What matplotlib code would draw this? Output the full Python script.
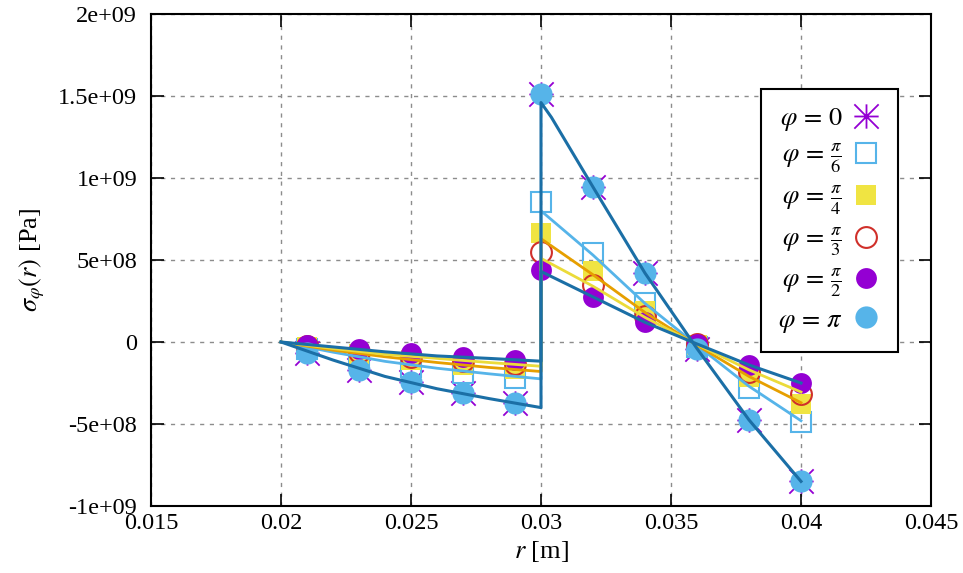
import matplotlib
matplotlib.use("Agg")
import matplotlib.pyplot as plt
from matplotlib.lines import Line2D
from matplotlib.path import Path

plt.rcParams['font.family'] = ['Liberation Serif', 'DejaVu Serif']
plt.rcParams['mathtext.fontset'] = 'stix'

# ---------------- data ----------------
r_in = [0.021, 0.023, 0.025, 0.027, 0.029]
r_out = [0.030, 0.032, 0.034, 0.036, 0.038, 0.040]

# numerical (marker) values, in Pa
pts_0 = [-0.067e9, -0.17e9, -0.245e9, -0.31e9, -0.37e9,
         1.51e9, 0.945e9, 0.42e9, -0.04e9, -0.475e9, -0.85e9]
pts_pi6 = [-0.04e9, -0.10e9, -0.15e9, -0.19e9, -0.22e9,
           0.855e9, 0.54e9, 0.24e9, -0.03e9, -0.28e9, -0.49e9]
pts_pi4 = [-0.03e9, -0.075e9, -0.11e9, -0.14e9, -0.165e9,
           0.665e9, 0.43e9, 0.19e9, -0.02e9, -0.215e9, -0.38e9]
pts_pi3 = [-0.025e9, -0.06e9, -0.09e9, -0.115e9, -0.135e9,
           0.55e9, 0.35e9, 0.16e9, -0.015e9, -0.185e9, -0.32e9]
pts_pi2 = [-0.02e9, -0.045e9, -0.07e9, -0.09e9, -0.11e9,
           0.44e9, 0.275e9, 0.12e9, -0.01e9, -0.14e9, -0.25e9]
pts_pi = [-0.067e9, -0.17e9, -0.245e9, -0.31e9, -0.37e9,
          1.51e9, 0.945e9, 0.42e9, -0.04e9, -0.475e9, -0.85e9]

# analytical curves
line_r = [0.020, 0.022, 0.024, 0.026, 0.028, 0.030,
          0.030, 0.032, 0.034, 0.036, 0.038, 0.040]
line_r_pi = [0.020, 0.022, 0.024, 0.026, 0.028, 0.030,
             0.030, 0.0304, 0.032, 0.034, 0.036, 0.038, 0.040]
line_pi = [0, -0.11e9, -0.21e9, -0.285e9, -0.345e9, -0.40e9,
           1.46e9, 1.37e9, 0.945e9, 0.42e9, -0.04e9, -0.475e9, -0.85e9]
line_pi6 = [0, -0.062e9, -0.118e9, -0.16e9, -0.194e9, -0.225e9,
            0.80e9, 0.53e9, 0.235e9, -0.02e9, -0.27e9, -0.48e9]
line_pi4 = [0, -0.05e9, -0.09e9, -0.125e9, -0.155e9, -0.18e9,
            0.63e9, 0.41e9, 0.18e9, -0.02e9, -0.21e9, -0.37e9]
line_pi3 = [0, -0.04e9, -0.075e9, -0.10e9, -0.125e9, -0.148e9,
            0.51e9, 0.34e9, 0.15e9, -0.015e9, -0.17e9, -0.305e9]
line_pi2 = [0, -0.03e9, -0.06e9, -0.085e9, -0.10e9, -0.117e9,
            0.43e9, 0.275e9, 0.12e9, -0.012e9, -0.14e9, -0.25e9]

labels = [r'$\varphi\,=\,0$', r'$\varphi\,=\,\frac{\pi}{6}$', r'$\varphi\,=\,\frac{\pi}{4}$',
          r'$\varphi\,=\,\frac{\pi}{3}$', r'$\varphi\,=\,\frac{\pi}{2}$', r'$\varphi\,=\,\pi$']

xticks = [0.015, 0.02, 0.025, 0.03, 0.035, 0.04, 0.045]
xticklabels = ['0.015', '0.02', '0.025', '0.03', '0.035', '0.04', '0.045']
yticks = [-1e9, -0.5e9, 0, 0.5e9, 1e9, 1.5e9, 2e9]
yticklabels = ['-1e+09', '-5e+08', '0', '5e+08', '1e+09', '1.5e+09', '2e+09']

# ---------------- styling ----------------
PURPLE = '#9400D3'
LBLUE = '#56B4E9'
YELLOW = '#F0E442'
RED = '#D0302A'
DBLUE = '#1b6fa6'
ORANGE = '#E69F00'
LYELLOW = '#EBDB3A'

# gnuplot-like asterisk: "+" plus "x" filling the square
star = Path([(-1, 0), (1, 0), (0, -1), (0, 1), (-1, -1), (1, 1), (-1, 1), (1, -1)],
            [Path.MOVETO, Path.LINETO] * 4)

fig = plt.figure(figsize=(9.63, 5.73), dpi=100)
ax = fig.add_axes([151/963, 1-506/573, 780/963, 492/573])

r_all = r_in + r_out
sty = [
    dict(marker=star, ms=17.5, mfc='none', mec=PURPLE, mew=1.3),
    dict(marker='s', ms=14.5, mfc='none', mec=LBLUE, mew=1.5),
    dict(marker='s', ms=14.5, mfc=YELLOW, mec=YELLOW, mew=0),
    dict(marker='o', ms=15, mfc='none', mec=RED, mew=1.5),
    dict(marker='o', ms=15, mfc=PURPLE, mec=PURPLE, mew=0),
    dict(marker='o', ms=16, mfc=LBLUE, mec=LBLUE, mew=0),
]
series = [pts_0, pts_pi6, pts_pi4, pts_pi3, pts_pi2, pts_pi]
for vals, st in zip(series, sty):
    ax.plot(r_all, vals, linestyle='none', zorder=3, **st)

ax.plot(line_r, line_pi6, color=LBLUE, lw=2, zorder=4)
ax.plot(line_r, line_pi4, color=ORANGE, lw=2, zorder=4)
ax.plot(line_r, line_pi3, color=LYELLOW, lw=2, zorder=4)
ax.plot(line_r, line_pi2, color=DBLUE, lw=2.2, zorder=4)
ax.plot(line_r_pi, line_pi, color=DBLUE, lw=2.2, zorder=4)

ax.set_xlim(0.015, 0.045)
ax.set_ylim(-1e9, 2e9)
ax.set_xticks(xticks)
ax.set_xticklabels(xticklabels)
ax.set_yticks(yticks)
ax.set_yticklabels(yticklabels)
ax.tick_params(direction='in', length=9, width=1.2, top=True, right=True,
               labelsize=17.5, colors='black')
ax.tick_params(axis='x', pad=5)
ax.tick_params(axis='y', pad=10)
ax.grid(True, color='#8c8c8c', linestyle=(0, (3, 4)), linewidth=1)
ax.set_axisbelow(True)
for s in ax.spines.values():
    s.set_linewidth(1.5)

ax.set_xlabel(r'$r$ [m]', fontsize=19, labelpad=4)
ax.set_ylabel(r'$\sigma_\varphi(r)$ [Pa]', fontsize=19, labelpad=8)

handles = [Line2D([], [], linestyle='none', **st) for st in sty]
leg = ax.legend(handles, labels, loc='upper right', bbox_to_anchor=(0.958, 0.848),
                borderaxespad=0, markerfirst=False, fancybox=False, framealpha=1,
                edgecolor='black', fontsize=19, handlelength=1.15, handletextpad=0.3,
                labelspacing=0.33, borderpad=0.65)
leg.get_frame().set_linewidth(1.5)
leg.set_zorder(6)

fig.savefig('out.png', dpi=100)
